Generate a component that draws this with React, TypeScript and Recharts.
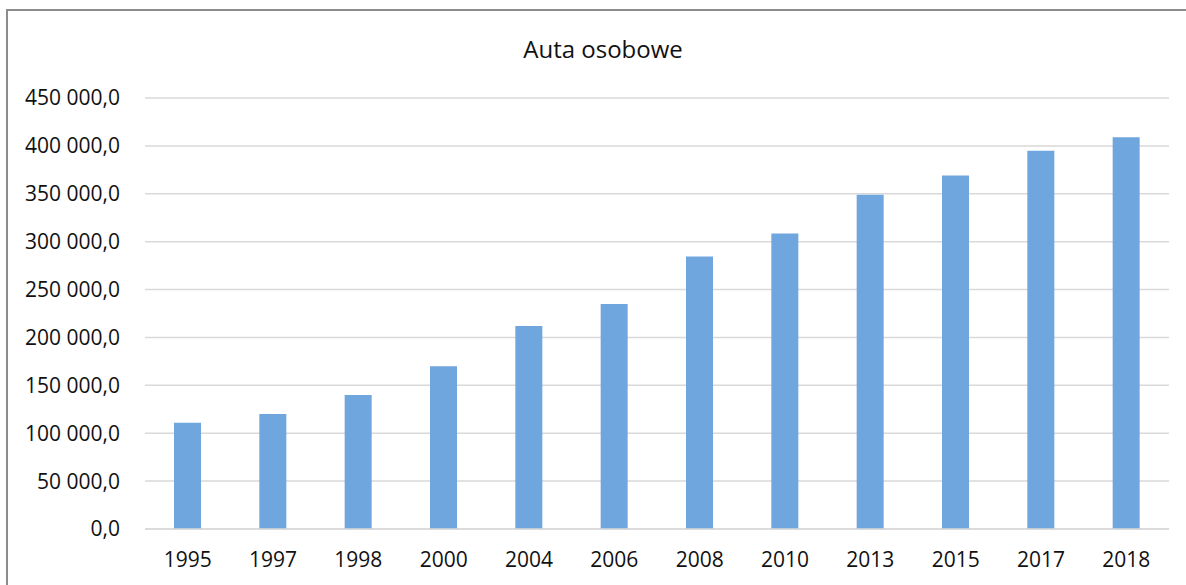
import { Bar, BarChart, CartesianGrid, XAxis, YAxis } from "recharts";

const years = ["1995", "1997", "1998", "2000", "2004", "2006", "2008", "2010", "2013", "2015", "2017", "2018"];
const cars = [111000, 120000, 140000, 170000, 212000, 235000, 284500, 308500, 349000, 369000, 395000, 409000];
const yTicks = [0, 50000, 100000, 150000, 200000, 250000, 300000, 350000, 400000, 450000];

const data = years.map((year, i) => ({ year, cars: cars[i] }));

const formatValue = (v: number) =>
  `${String(Math.round(v)).replace(/\B(?=(\d{3})+(?!\d))/g, " ")},0`;

const font = "'Open Sans', sans-serif";

export default function App() {
  return (
    <div
      style={{
        position: "fixed",
        left: 0,
        top: 0,
        width: 1186,
        height: 585,
        overflow: "hidden",
        background: "#fff",
        fontFamily: font,
      }}
    >
      <div
        style={{
          position: "absolute",
          left: 6,
          top: 9,
          width: 1250,
          height: 650,
          borderTop: "2px solid #8c8c8c",
          borderLeft: "2px solid #8c8c8c",
        }}
      />
      <div
        style={{
          position: "absolute",
          left: 0,
          width: 1206,
          top: 33,
          textAlign: "center",
          fontSize: 24,
          color: "#111",
          lineHeight: "32px",
        }}
      >
        Auta osobowe
      </div>
      <div style={{ position: "absolute", left: 0, top: 0 }}>
        <BarChart
          width={1186}
          height={585}
          data={data}
          margin={{ top: 98, right: 17, bottom: 0, left: 0 }}
        >
          <CartesianGrid vertical={false} stroke="#d9d9d9" strokeWidth={1.5} />
          <XAxis
            dataKey="year"
            height={56}
            axisLine={{ stroke: "#d9d9d9", strokeWidth: 1.5 }}
            tickLine={false}
            tickMargin={17}
            tick={{ fill: "#111", fontSize: 21, fontFamily: font }}
            interval={0}
          />
          <YAxis
            width={145}
            domain={[0, 450000]}
            ticks={yTicks}
            axisLine={false}
            tickLine={false}
            tickMargin={19}
            tickFormatter={formatValue}
            tick={{ fill: "#111", fontSize: 21, fontFamily: font }}
          />
          <Bar dataKey="cars" fill="#6ea6dd" barSize={27} isAnimationActive={false} />
        </BarChart>
      </div>
    </div>
  );
}
